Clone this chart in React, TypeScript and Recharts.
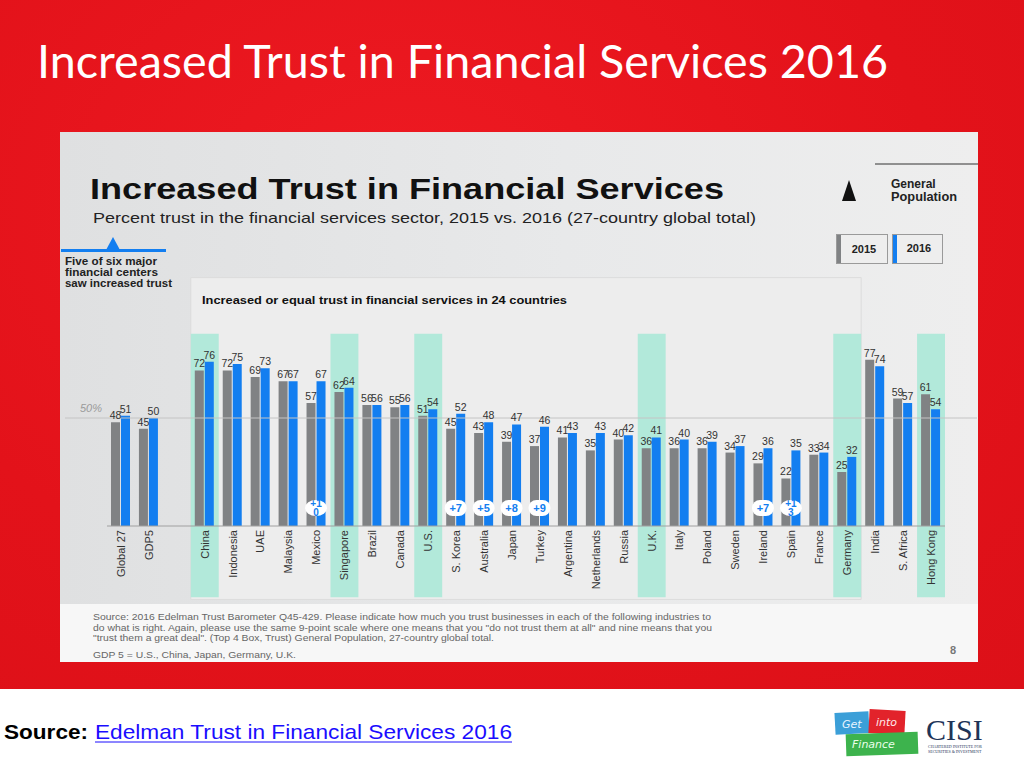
import React from 'react';
import { BarChart, Bar, XAxis, YAxis, ReferenceArea, ReferenceLine, LabelList } from 'recharts';

// Edelman Trust Barometer 2016 – trust in financial services, 2015 vs 2016
const categories = [
  'Global 27', 'GDP5', ' ', 'China', 'Indonesia', 'UAE', 'Malaysia', 'Mexico', 'Singapore', 'Brazil',
  'Canada', 'U.S.', 'S. Korea', 'Australia', 'Japan', 'Turkey', 'Argentina', 'Netherlands', 'Russia', 'U.K.',
  'Italy', 'Poland', 'Sweden', 'Ireland', 'Spain', 'France', 'Germany', 'India', 'S. Africa', 'Hong Kong',
];
const trust2015 = [48, 45, null, 72, 72, 69, 67, 57, 62, 56, 55, 51, 45, 43, 39, 37, 41, 35, 40, 36, 36, 36, 34, 29, 22, 33, 25, 77, 59, 61];
const trust2016 = [51, 50, null, 76, 75, 73, 67, 67, 64, 56, 56, 54, 52, 48, 47, 46, 43, 43, 42, 41, 40, 39, 37, 36, 35, 34, 32, 74, 57, 54];
const gains = ['', '', '', '', '', '', '', '+10', '', '', '', '', '+7', '+5', '+8', '+9', '', '', '', '', '', '', '', '+7', '+13', '', '', '', '', ''];
const financialCenters = ['China', 'Singapore', 'U.S.', 'U.K.', 'Germany', 'Hong Kong'];

const data = categories.map((name, i) => ({
  name,
  y2015: trust2015[i],
  y2016: trust2016[i],
  gain: gains[i],
}));

const GRAY = '#808284';
const BLUE = '#137ef0';
const TEAL = '#b2e9da';
const SANS = "'Liberation Sans', Arial, sans-serif";
const NARROW = "'Liberation Sans Narrow', 'Liberation Sans', Arial, sans-serif";

const CountryTick = ({ x, y, payload }: any) => (
  <text
    x={x}
    y={y}
    dy="0.35em"
    transform={`rotate(-90, ${x}, ${y})`}
    textAnchor="end"
    fontSize={11}
    fontFamily={NARROW}
    fill="#333"
  >
    {payload.value}
  </text>
);

const GainBadge = (props: any) => {
  const { value } = props;
  if (!value) return null;
  const vb = props.viewBox || props;
  const cx = vb.x - 0.5;
  const cy = vb.y + vb.height - 18;
  if (value.length > 2) {
    // two-digit gains wrap onto two lines in the original
    return (
      <g>
        <ellipse cx={cx} cy={cy} rx={11} ry={8} fill="#fff" />
        <text x={cx} y={cy - 1} textAnchor="middle" fontSize={10} fontWeight="bold" fill={BLUE} fontFamily={SANS}>
          {value.slice(0, 2)}
        </text>
        <text x={cx} y={cy + 8} textAnchor="middle" fontSize={10} fontWeight="bold" fill={BLUE} fontFamily={SANS}>
          {value.slice(2)}
        </text>
      </g>
    );
  }
  return (
    <g>
      <rect x={cx - 11} y={cy - 8} width={22} height={16} rx={8} fill="#fff" />
      <text x={cx} y={cy + 4} textAnchor="middle" fontSize={11} fontWeight="bold" fill={BLUE} fontFamily={SANS}>
        {value}
      </text>
    </g>
  );
};

const FiftyLine = (p: any) => (
  <g>
    <line x1={p.x1 - 42} y1={p.y1} x2={p.x2 + 32} y2={p.y2} stroke="#c4c4c4" strokeWidth={1} />
    <text x={p.x1 - 27} y={p.y1 - 6} fontSize={11} fontStyle="italic" fill="#9a9a9a" fontFamily={SANS}>
      50%
    </text>
  </g>
);

export default function App() {
  return (
    <div style={{ position: 'absolute', left: 0, top: 0, width: 1024, height: 768, overflow: 'hidden', background: '#fff' }}>
      {/* red slide background */}
      <div
        style={{
          position: 'absolute', left: 0, top: 0, width: 1024, height: 689,
          background: 'radial-gradient(ellipse at 40% 30%, #ee1a22 0%, #e3121a 60%, #dc1018 100%)',
        }}
      />
      {/* embedded slide image */}
      <div
        style={{
          position: 'absolute', left: 60, top: 132, width: 918, height: 530,
          background: 'linear-gradient(90deg, #dfe0e1 0%, #e8e9ea 55%, #eeeeee 100%)',
        }}
      />
      <div style={{ position: 'absolute', left: 60, top: 604, width: 918, height: 58, background: '#f7f7f7' }} />

      <div style={{ position: 'absolute', left: 60, top: 132 }}>
        <BarChart
          width={918}
          height={530}
          data={data}
          margin={{ top: 178, right: 33, bottom: 66, left: 47 }}
          barSize={9}
          barGap={1}
        >
          <ReferenceArea x1="China" x2="Germany" y1={-34} y2={115} ifOverflow="visible" fill="#ededed" fillOpacity={1} stroke="#dcdcdc" />
          {financialCenters.map((c) => (
            <ReferenceArea key={c} x1={c} x2={c} y1={-33} y2={89} ifOverflow="visible" fill={TEAL} fillOpacity={1} stroke="none" />
          ))}
          <XAxis
            dataKey="name"
            interval={0}
            height={70}
            tickSize={0}
            tickMargin={4}
            tickLine={false}
            axisLine={{ stroke: '#a0a0a0' }}
            tick={<CountryTick />}
          />
          <YAxis hide domain={[0, 100]} />
          <ReferenceLine y={50} shape={<FiftyLine />} />
          <Bar dataKey="y2015" fill={GRAY} isAnimationActive={false}>
            <LabelList dataKey="y2015" position="top" offset={3} fontSize={10.5} fill="#333" fontFamily={SANS} />
          </Bar>
          <Bar dataKey="y2016" fill={BLUE} isAnimationActive={false}>
            <LabelList dataKey="y2016" position="top" offset={3} fontSize={10.5} fill="#333" fontFamily={SANS} />
            <LabelList dataKey="gain" content={<GainBadge />} />
          </Bar>
        </BarChart>
      </div>

      {/* text & decorations */}
      <svg width={1024} height={768} style={{ position: 'absolute', left: 0, top: 0, pointerEvents: 'none' }}>
        <text x={37} y={78} fontSize={46.5} fontFamily="Lato, 'Open Sans', sans-serif" fill="#fff" textLength={851} lengthAdjust="spacingAndGlyphs">
          Increased Trust in Financial Services 2016
        </text>

        <text x={90} y={199} fontSize={30} fontWeight="bold" fontFamily={SANS} fill="#111" textLength={634} lengthAdjust="spacingAndGlyphs">
          Increased Trust in Financial Services
        </text>
        <text x={93} y={223} fontSize={15} fontFamily={SANS} fill="#222" textLength={663} lengthAdjust="spacingAndGlyphs">
          Percent trust in the financial services sector, 2015 vs. 2016 (27-country global total)
        </text>
        <text x={202} y={304} fontSize={11} fontWeight="bold" fontFamily={SANS} fill="#111" textLength={365} lengthAdjust="spacingAndGlyphs">
          Increased or equal trust in financial services in 24 countries
        </text>

        {/* top-right legend */}
        <line x1={875} y1={164} x2={978} y2={164} stroke="#333" strokeWidth={1} />
        <polygon points="849,180 842,201 856,201" fill="#111" />
        <text x={891} y={188} fontSize={12} fontWeight="bold" fontFamily={SANS} fill="#222">General</text>
        <text x={891} y={201} fontSize={12} fontWeight="bold" fontFamily={SANS} fill="#222" textLength={66} lengthAdjust="spacingAndGlyphs">Population</text>
        <rect x={836.5} y={234.5} width={51} height={29} fill="#eeeeee" stroke="#9a9a9a" />
        <rect x={837} y={235} width={4} height={28} fill={GRAY} />
        <text x={864} y={253} textAnchor="middle" fontSize={11} fontWeight="bold" fontFamily={SANS} fill="#222">2015</text>
        <rect x={892.5} y={234.5} width={50} height={29} fill="#eeeeee" stroke="#9a9a9a" />
        <rect x={893} y={235} width={4} height={28} fill={BLUE} />
        <text x={919} y={252} textAnchor="middle" fontSize={11} fontWeight="bold" fontFamily={SANS} fill="#222">2016</text>

        {/* financial centers callout */}
        <line x1={61} y1={250.5} x2={166} y2={250.5} stroke={BLUE} strokeWidth={3} />
        <polygon points="113,237 106,250 120,250" fill={BLUE} />
        <g fontSize={11} fontWeight="bold" fontFamily={SANS} fill="#222">
          <text x={65} y={265} textLength={92} lengthAdjust="spacingAndGlyphs">Five of six major</text>
          <text x={65} y={276} textLength={93} lengthAdjust="spacingAndGlyphs">financial centers</text>
          <text x={65} y={287} textLength={107} lengthAdjust="spacingAndGlyphs">saw increased trust</text>
        </g>

        {/* footnotes */}
        <g fontSize={9.5} fontFamily={NARROW} fill="#666">
          <text x={93} y={620} textLength={618} lengthAdjust="spacingAndGlyphs">
            Source: 2016 Edelman Trust Barometer Q45-429. Please indicate how much you trust businesses in each of the following industries to
          </text>
          <text x={93} y={631} textLength={619} lengthAdjust="spacingAndGlyphs">
            do what is right. Again, please use the same 9-point scale where one means that you "do not trust them at all" and nine means that you
          </text>
          <text x={93} y={641} textLength={401} lengthAdjust="spacingAndGlyphs">
            "trust them a great deal". (Top 4 Box, Trust) General Population, 27-country global total.
          </text>
          <text x={93} y={658} textLength={203} lengthAdjust="spacingAndGlyphs">GDP 5 = U.S., China, Japan, Germany, U.K.</text>
        </g>
        <text x={950} y={654} fontSize={11} fontWeight="bold" fontFamily={SANS} fill="#777">8</text>

        {/* source line */}
        <text x={4} y={739} fontSize={21} fontWeight="bold" fontFamily={SANS} fill="#000" textLength={84} lengthAdjust="spacingAndGlyphs">
          Source:
        </text>
        <text x={95} y={739} fontSize={21} fontFamily={SANS} fill="#1a0dff" textLength={417} lengthAdjust="spacingAndGlyphs">
          Edelman Trust in Financial Services 2016
        </text>
        <line x1={95} y1={742} x2={512} y2={742} stroke="#1a0dff" strokeWidth={1} />

        {/* logos */}
        <rect x={835} y={712} width={34} height={22} fill="#3b9fd8" transform="rotate(-3 852 723)" />
        <text x={842} y={728} fontSize={11} fontStyle="italic" fill="#e8f4ff" fontFamily="'DejaVu Sans', sans-serif">Get</text>
        <rect x={869} y={710} width={36} height={24} fill="#e2232b" transform="rotate(3 887 722)" />
        <text x={876} y={726} fontSize={11} fontStyle="italic" fill="#ffe9e9" fontFamily="'DejaVu Sans', sans-serif">into</text>
        <rect x={846} y={733} width={72} height={22} fill="#3db34d" transform="rotate(-2 882 744)" />
        <text x={852} y={748} fontSize={11} fontStyle="italic" fill="#eaffea" fontFamily="'DejaVu Sans', sans-serif">Finance</text>
        <text x={926} y={740} fontSize={30} fontFamily="'Liberation Serif', serif" fill="#1e3458">CISI</text>
        <text x={928} y={748} fontSize={4} fontFamily="'Liberation Serif', serif" fill="#1e3458">CHARTERED INSTITUTE FOR</text>
        <text x={928} y={753} fontSize={4} fontFamily="'Liberation Serif', serif" fill="#1e3458">SECURITIES &amp; INVESTMENT</text>
      </svg>
    </div>
  );
}
